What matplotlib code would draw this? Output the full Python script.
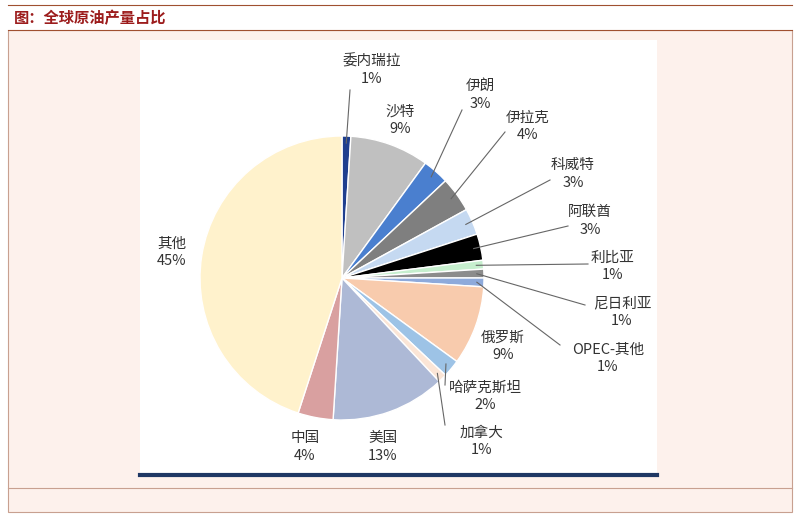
import numpy as np
import matplotlib
matplotlib.use("Agg")
import matplotlib.pyplot as plt
from matplotlib.patches import Rectangle

plt.rcParams['font.family'] = ['Noto Sans CJK SC']

labels = ["委内瑞拉", "沙特", "伊朗", "伊拉克", "科威特", "阿联酋", "利比亚", "尼日利亚",
          "OPEC-其他", "俄罗斯", "哈萨克斯坦", "加拿大", "美国", "中国", "其他"]
values = [1, 9, 3, 4, 3, 3, 1, 1, 1, 9, 2, 1, 13, 4, 45]
colors = ["#1f3f8f", "#c0c0c0", "#4a7fcf", "#7f7f7f", "#c5d9f1", "#000000", "#c6efce",
          "#8c8c8c", "#8eaadb", "#f8cbad", "#9dc3e6", "#fbe5d6", "#adb9d6", "#d9a0a0", "#fff2cc"]
# label text positions (pixels) and leader-line end points (pixels)
text_pos = [(372, 70), (400, 120), (480, 95), (528, 126), (573, 174), (590, 221), (613, 266),
            (622, 312), (608, 358), (503, 346), (485, 396), (482, 441), (383, 447), (305, 447), (172, 252)]
line_end = [(350, 90), None, (462, 110), (505, 132), (550, 180), (568, 226), (588, 264),
            (585, 305), (560, 345), None, (445, 385), (445, 425), None, None, None]

W, H = 800, 519
fig = plt.figure(figsize=(8, 5.19), dpi=100)
fig.patch.set_facecolor("white")
ax = fig.add_axes([0, 0, 1, 1])
ax.set_xlim(0, W); ax.set_ylim(H, 0); ax.axis("off")

ax.add_patch(Rectangle((8, 30), 784, 482, facecolor="#fdf1ec", edgecolor="#c8a090", lw=0.8))
ax.add_patch(Rectangle((8, 5), 784, 25, facecolor="white", edgecolor="none"))
ax.plot([8, 792], [30, 30], color="#a05030", lw=0.8)
ax.plot([8, 792], [5, 5], color="#a05030", lw=0.8)
ax.text(14, 18, "图：全球原油产量占比", color="#9c1c1c", fontsize=11, fontweight="bold", va="center")
ax.add_patch(Rectangle((140, 40), 517, 435, facecolor="white", edgecolor="none"))
ax.plot([140, 657], [475, 475], color="#1f3864", lw=3)
ax.plot([8, 792], [488, 488], color="#c8a090", lw=0.8)

cx, cy, r = 342, 278, 142
# y axis is inverted: data angle -90 is visual top, counterclock in data = clockwise on screen
wedges, _ = ax.pie(values, colors=colors, startangle=-90, counterclock=True, center=(cx, cy),
                   radius=r, wedgeprops=dict(edgecolor="white", linewidth=1), frame=True)
ax.set_xlim(0, W); ax.set_ylim(H, 0); ax.set_aspect("equal"); ax.axis("off")

for w, lab, v, tp, le in zip(wedges, labels, values, text_pos, line_end):
    ax.text(tp[0], tp[1], f"{lab}\n{v}%", ha="center", va="center", fontsize=10.5,
            color="#333333", linespacing=1.3)
    if le is not None:
        ang = np.deg2rad((w.theta1 + w.theta2) / 2)
        px, py = cx + 0.95 * r * np.cos(ang), cy + 0.95 * r * np.sin(ang)
        ax.plot([px, le[0]], [py, le[1]], color="#666666", lw=0.8)

fig.savefig("out.png", dpi=100)
